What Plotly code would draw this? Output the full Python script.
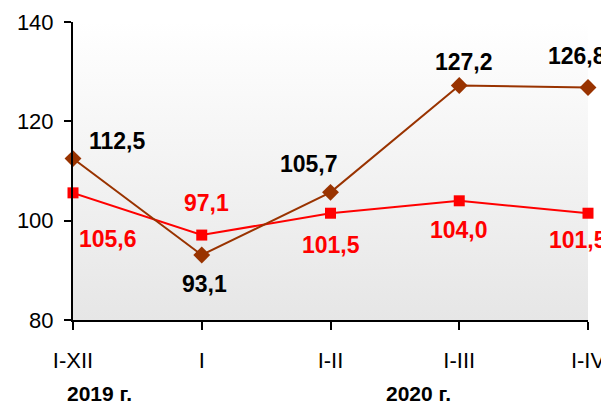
"""Индексы по периодам: две линии с подписями значений"""

import plotly.graph_objects as go

# данные
periods = ['I-XII', 'I', 'I-II', 'I-III', 'I-IV']
series_brown = [112.5, 93.1, 105.7, 127.2, 126.8]
series_red = [105.6, 97.1, 101.5, 104.0, 101.5]
year_labels = ['2019 г.', '2020 г.']

Y_RANGE = [80, 140]
X_RANGE = [0, len(periods) - 1]

BROWN = '#993300'
RED = '#FF0000'
FONT = 'Liberation Sans, Arial, sans-serif'


def fmt(v):
    return f'{v:.1f}'.replace('.', ',')


fig = go.Figure()

# фон с вертикальным градиентом
fig.add_trace(go.Scatter(
    x=[X_RANGE[0], X_RANGE[1], X_RANGE[1], X_RANGE[0], X_RANGE[0]],
    y=[Y_RANGE[0], Y_RANGE[0], Y_RANGE[1], Y_RANGE[1], Y_RANGE[0]],
    mode='none',
    fill='toself',
    fillgradient=dict(type='vertical',
                      colorscale=[[0, '#e6e6e6'], [1, '#ffffff']]),
    hoverinfo='skip',
    showlegend=False,
))

xi = list(range(len(periods)))

fig.add_trace(go.Scatter(
    x=xi, y=series_red, mode='lines+markers',
    line=dict(color=RED, width=2),
    marker=dict(symbol='square', size=11, color=RED),
    showlegend=False, cliponaxis=False,
))
fig.add_trace(go.Scatter(
    x=xi, y=series_brown, mode='lines+markers',
    line=dict(color=BROWN, width=2),
    marker=dict(symbol='diamond', size=13, color=BROWN),
    showlegend=False, cliponaxis=False,
))

# сдвиги подписей (px)
brown_shift = [(44, 18), (3, -29), (-22, 28), (5, 24), (-11, 32)]
red_shift = [(35, -46), (5, 32), (0, -32), (0, -29), (-10, -27)]

for i, v in enumerate(series_brown):
    dx, dy = brown_shift[i]
    fig.add_annotation(x=i, y=v, text=f'<b>{fmt(v)}</b>', showarrow=False,
                       xshift=dx, yshift=dy,
                       font=dict(family=FONT, size=23, color='black'))
for i, v in enumerate(series_red):
    dx, dy = red_shift[i]
    fig.add_annotation(x=i, y=v, text=f'<b>{fmt(v)}</b>', showarrow=False,
                       xshift=dx, yshift=dy,
                       font=dict(family=FONT, size=23, color=RED))

# подписи годов
fig.add_annotation(x=0.052, y=-0.245, xref='paper', yref='paper',
                   xanchor='center', yanchor='middle',
                   text=f'<b>{year_labels[0]}</b>', showarrow=False,
                   font=dict(family=FONT, size=21, color='black'))
fig.add_annotation(x=0.67, y=-0.245, xref='paper', yref='paper',
                   xanchor='center', yanchor='middle',
                   text=f'<b>{year_labels[1]}</b>', showarrow=False,
                   font=dict(family=FONT, size=21, color='black'))

fig.update_layout(
    width=609, height=409,
    margin=dict(l=65, r=29, t=14, b=97),
    paper_bgcolor='white',
    plot_bgcolor='white',
    font=dict(family=FONT, size=22, color='black'),
    xaxis=dict(
        range=X_RANGE, tickmode='array', tickvals=xi, ticktext=periods,
        showgrid=False, zeroline=False,
        showline=True, linecolor='black', linewidth=2,
        ticks='outside', ticklen=8, tickwidth=2, tickcolor='black',
        ticklabelstandoff=12,
    ),
    yaxis=dict(
        range=Y_RANGE, tickvals=[80, 100, 120, 140],
        showgrid=False, zeroline=False, automargin=False,
        showline=True, linecolor='black', linewidth=2,
        ticks='outside', ticklen=7, tickwidth=2, tickcolor='black',
        ticklabelstandoff=6,
    ),
)

fig.write_html('out.html')
